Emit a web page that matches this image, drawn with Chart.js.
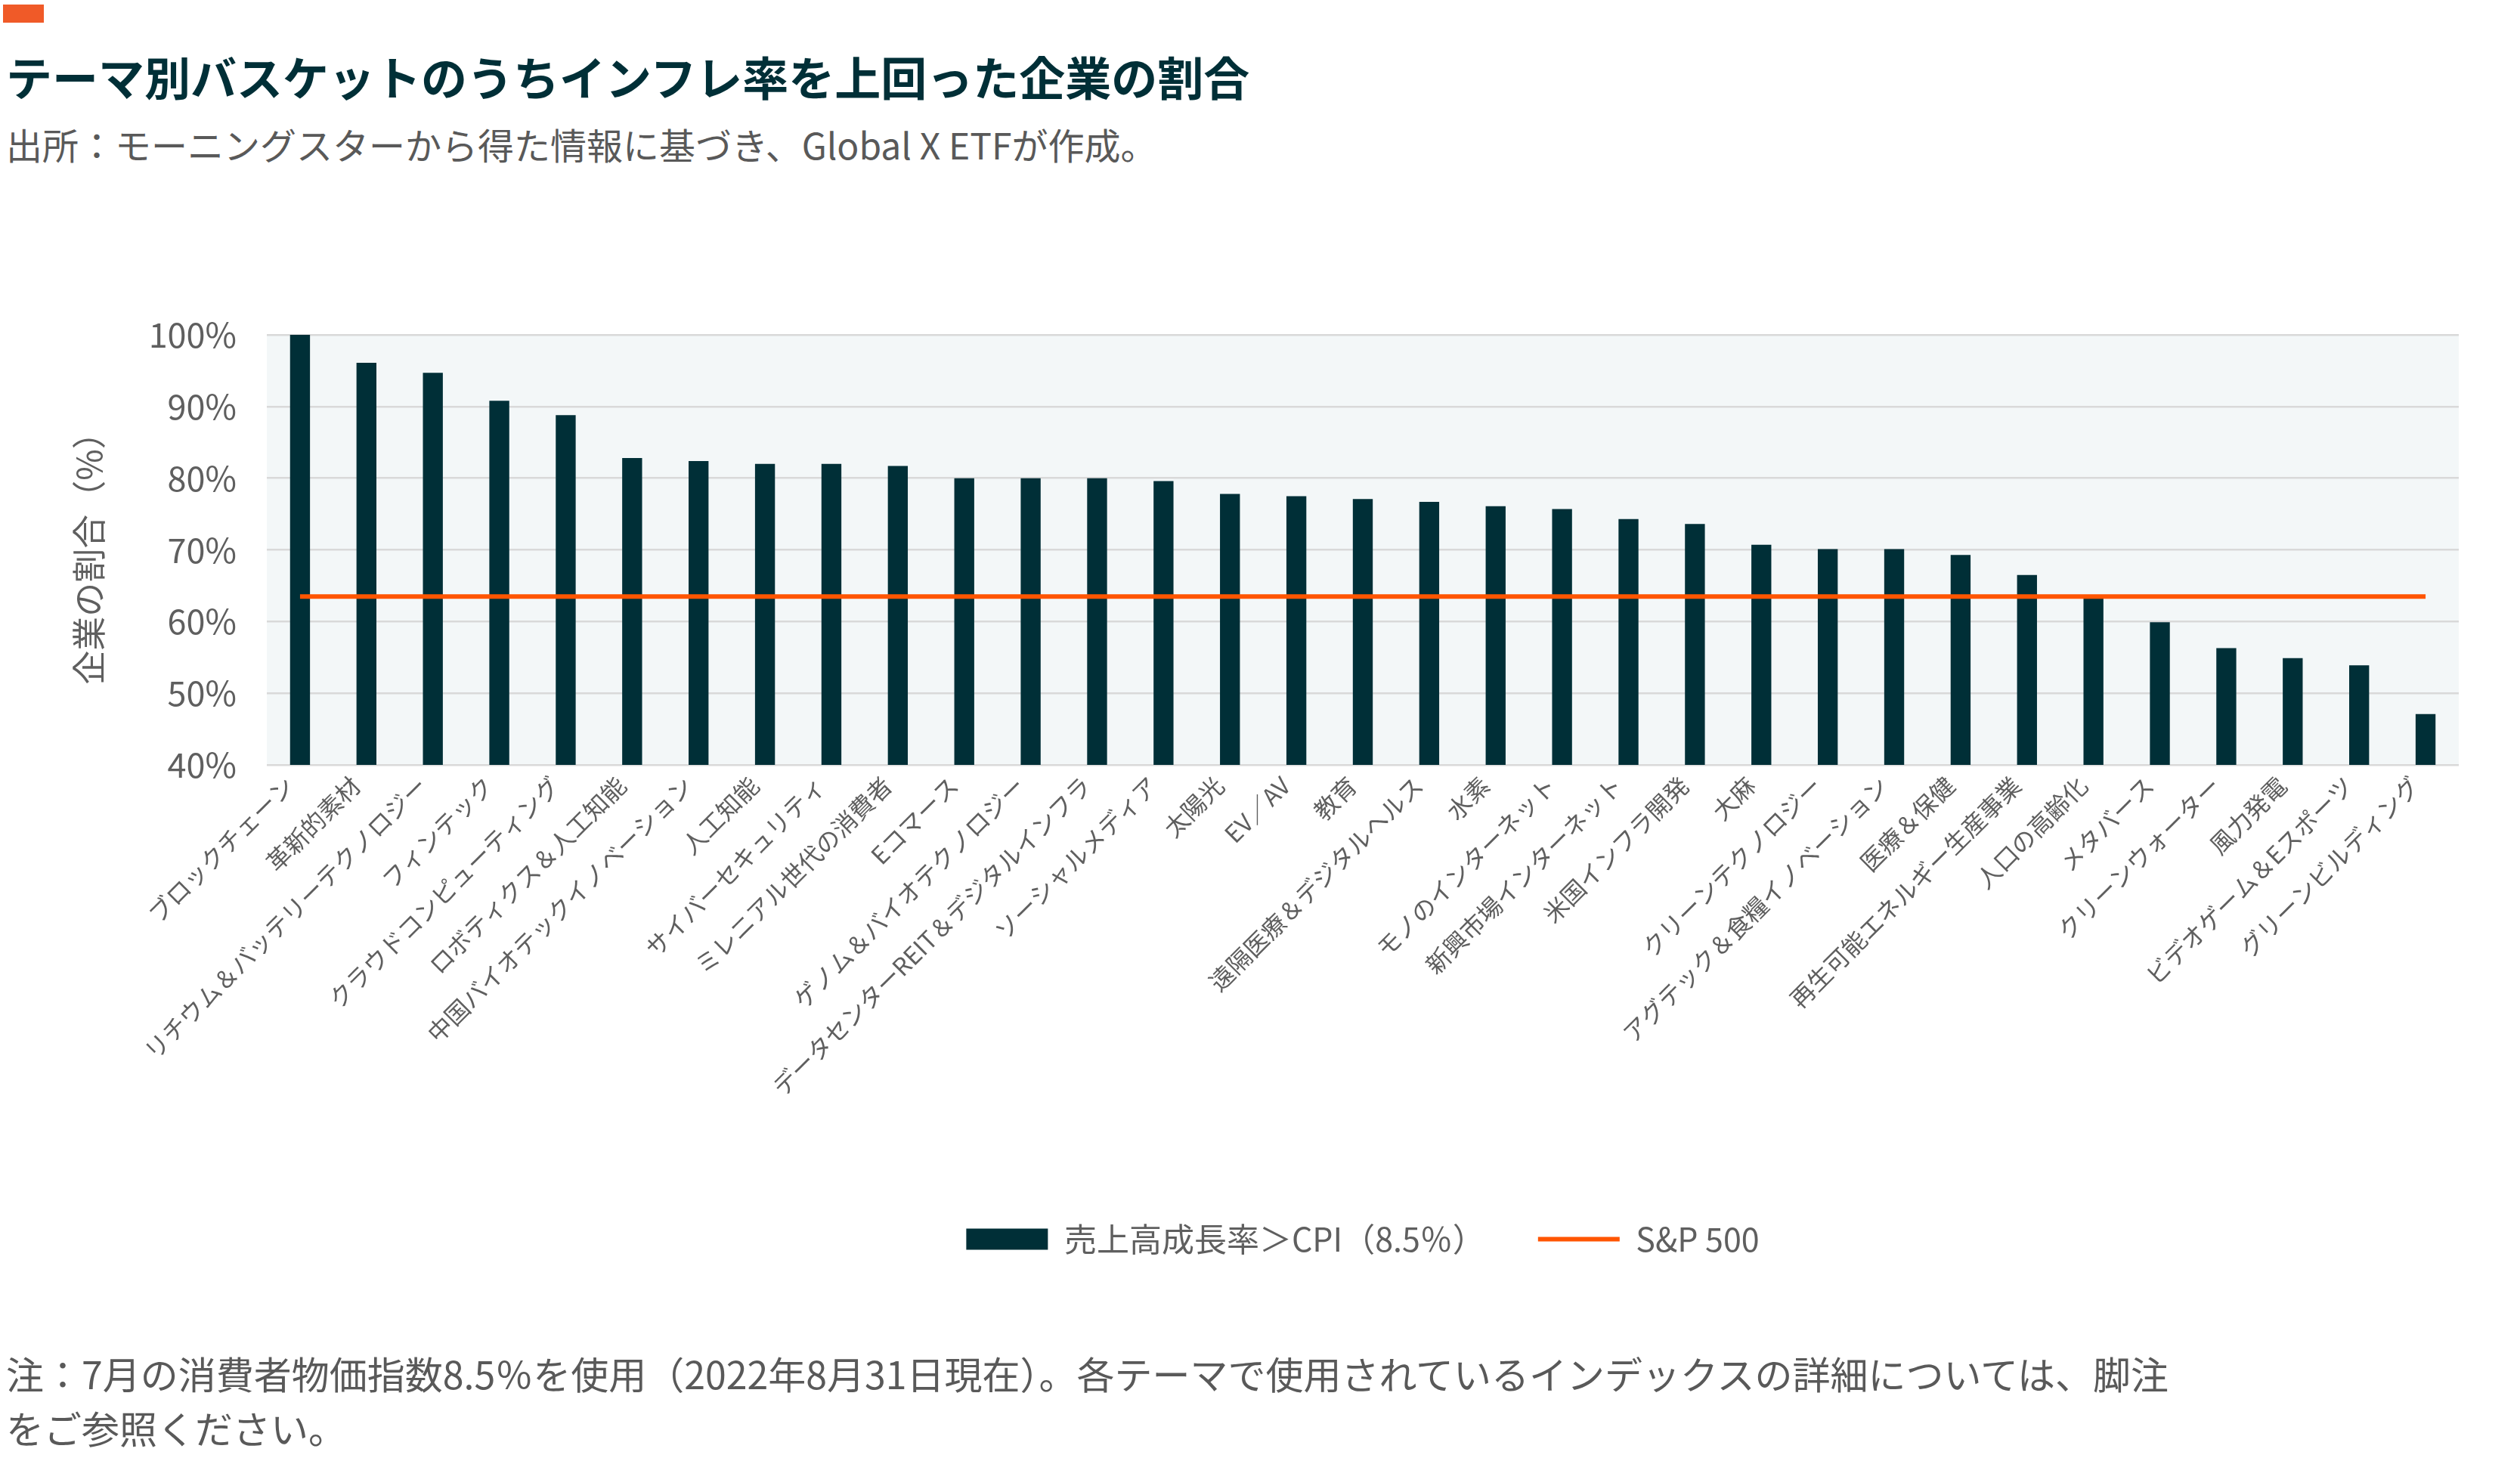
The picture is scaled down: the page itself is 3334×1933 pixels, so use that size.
<!DOCTYPE html>
<html><head><meta charset="utf-8">
<script src="https://cdn.jsdelivr.net/npm/chart.js@4.4.1/dist/chart.umd.min.js"></script>
<style>
html,body{margin:0;padding:0;background:#fff;width:3334px;height:1933px;overflow:hidden;font-family:'Noto Sans CJK JP','Noto Sans',sans-serif;}
#mark{position:absolute;left:4px;top:6px;width:54px;height:24px;background:#f05a28;}
#title{position:absolute;left:8px;top:70px;font-size:61px;font-weight:700;color:#002f37;white-space:nowrap;line-height:1;}
#sub{position:absolute;left:8px;top:166px;font-size:48px;color:#595959;white-space:nowrap;line-height:1;}
#wrap{position:absolute;left:0;top:376px;width:3334px;height:1295px;}
#note{position:absolute;left:8px;top:1780px;font-size:50px;color:#595959;line-height:72px;white-space:nowrap;}
</style></head>
<body>
<div id="mark"></div>
<div id="title">テーマ別バスケットのうちインフレ率を上回った企業の割合</div>
<div id="sub">出所：モーニングスターから得た情報に基づき、Global X ETFが作成。</div>
<div id="wrap"><canvas id="c"></canvas></div>
<div id="note">注：7月の消費者物価指数8.5％を使用（2022年8月31日現在）。各テーマで使用されているインデックスの詳細については、脚注<br>をご参照ください。</div>
<script>
const categories = [
  'ブロックチェーン','革新的素材','リチウム＆バッテリーテクノロジー','フィンテック',
  'クラウドコンピューティング','ロボティクス＆人工知能','中国バイオテックイノベーション','人工知能',
  'サイバーセキュリティ','ミレニアル世代の消費者','Eコマース','ゲノム＆バイオテクノロジー',
  'データセンターREIT＆デジタルインフラ','ソーシャルメディア','太陽光','EV／AV','教育',
  '遠隔医療＆デジタルヘルス','水素','モノのインターネット','新興市場インターネット','米国インフラ開発',
  '大麻','クリーンテクノロジー','アグテック＆食糧イノベーション','医療＆保健','再生可能エネルギー生産事業',
  '人口の高齢化','メタバース','クリーンウォーター','風力発電','ビデオゲーム＆Eスポーツ','グリーンビルディング'
];
const revenueAboveCpi = [
  100, 96.1, 94.7, 90.8, 88.8, 82.8, 82.4, 82.0, 82.0, 81.7, 80.0,
  80.0, 80.0, 79.6, 77.8, 77.5, 77.1, 76.7, 76.1, 75.7, 74.3, 73.6,
  70.7, 70.1, 70.1, 69.3, 66.5, 63.3, 59.9, 56.3, 54.9, 53.9, 47.1
];
const sp500 = [
  63.5, 63.5, 63.5, 63.5, 63.5, 63.5, 63.5, 63.5, 63.5, 63.5, 63.5,
  63.5, 63.5, 63.5, 63.5, 63.5, 63.5, 63.5, 63.5, 63.5, 63.5, 63.5,
  63.5, 63.5, 63.5, 63.5, 63.5, 63.5, 63.5, 63.5, 63.5, 63.5, 63.5
];
const seriesNames = ['売上高成長率＞CPI（8.5％）', 'S&P 500'];
const yTickValues = [40, 50, 60, 70, 80, 90, 100];
const yTickLabels = ['40%', '50%', '60%', '70%', '80%', '90%', '100%'];
const yTitle = '企業の割合（%）';

const FONT = "'Noto Sans CJK JP','Noto Sans',sans-serif";
const GRAY = '#5f5f5f';

const plotBg = {
  id: 'plotBg',
  beforeDraw(chart) {
    const {ctx, chartArea: a} = chart;
    ctx.save();
    ctx.fillStyle = '#f3f7f8';
    ctx.fillRect(a.left, a.top, a.right - a.left, a.bottom - a.top);
    ctx.restore();
  }
};

new Chart(document.getElementById('c'), {
  data: {
    labels: categories,
    datasets: [
      {
        type: 'bar', label: seriesNames[0], data: revenueAboveCpi,
        backgroundColor: '#002f37', borderWidth: 0,
        barPercentage: 0.3, categoryPercentage: 1, order: 1,
        pointStyle: 'rect'
      },
      {
        type: 'line', label: seriesNames[1], data: sp500,
        borderColor: '#ff5500', backgroundColor: '#ff5500', borderWidth: 6,
        pointRadius: 0, fill: false, order: 0, pointStyle: 'line'
      }
    ]
  },
  options: {
    responsive: true, maintainAspectRatio: false, animation: false,
    devicePixelRatio: 1,
    layout: { padding: { top: 0, right: 81, left: 0, bottom: 0 } },
    plugins: {
      tooltip: { enabled: false },
      legend: {
        position: 'bottom', fullSize: false,
        labels: {
          usePointStyle: true, pointStyleWidth: 108, boxHeight: 28,
          padding: 70, color: GRAY, font: { family: FONT, size: 43 },
          sort: (a, b) => a.datasetIndex - b.datasetIndex
        }
      }
    },
    scales: {
      x: {
        grid: { display: false, drawTicks: false },
        border: { display: false },
        ticks: {
          autoSkip: false, maxRotation: 45, minRotation: 45, padding: 8, labelOffset: -14,
          color: GRAY, font: { family: FONT, size: 32 }
        },
        afterFit(scale) { scale.height = 536; }
      },
      y: {
        min: 40, max: 100,
        afterBuildTicks(scale) { scale.ticks = yTickValues.map(v => ({ value: v })); },
        grid: { color: '#d9d9d9', lineWidth: 2.5, drawTicks: false },
        border: { display: false },
        ticks: {
          padding: 40, color: GRAY, font: { family: FONT, size: 45 },
          callback: (v) => yTickLabels[yTickValues.indexOf(v)]
        },
        title: {
          display: true, text: yTitle, color: GRAY,
          font: { family: FONT, size: 45 }, padding: { top: 91, bottom: 10 }
        },
        afterFit(scale) { scale.width = 353; }
      }
    }
  },
  plugins: [plotBg]
});
</script>
</body></html>
